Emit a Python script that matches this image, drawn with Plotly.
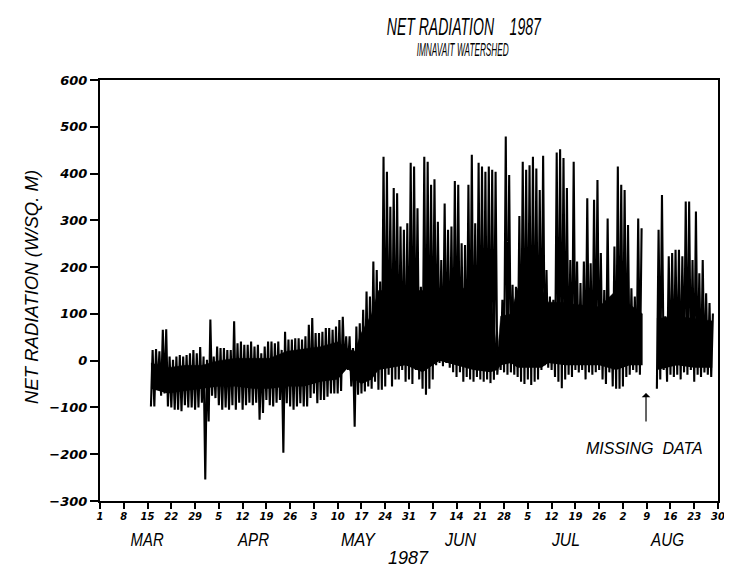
import json
import plotly.graph_objects as go
import pandas as pd

# ---------------- data ----------------
season_start = "1987-03-01"          # day index 0
first_day = 15                        # first day with data (Mar 16)

# daily maximum net radiation (W/sq. m), day index 15..180 ; None = missing data
day_max = [23, 25, 20, 66, 67, 9, 2, 9, 12, 9, 12, 16, 23, 16, 29, 9, 2, 88, 9, 30,
           27, 27, 23, 23, 84, 37, 41, 34, 34, 41, 30, 34, 16, 30, 41, 41, 37, 41, 23, 62,
           45, 45, 48, 48, 45, 52, 77, 91, 59, 59, 62, 70, 70, 66, 73, 87, 94, 52, 52, 27,
           73, 80, 109, 148, 137, 212, 194, 169, 436, 404, 329, 369, 358, 287, 280, 294, 423, 415, 326, 158,
           436, 425, 376, 388, 297, 215, 336, 280, 287, 384, 376, 251, 247, 376, 440, 294, 423, 415, 404, 415,
           408, 404, 20, 130, 479, 397, 162, 158, 309, 425, 408, 418, 436, 411, 365, 438, 194, 137, 130, 445,
           452, 433, 369, 215, 425, 212, 166, 212, 347, 208, 344, 386, 230, 151, 304, 123, 244, 415, 376, 365,
           290, 155, 137, 304, 283, None, None, None, None, 280, 354, 95, 223, 230, 237, 237, 223, 340, 340, 215,
           319, 187, 215, 144, 123, 101]

# daily minimum net radiation (W/sq. m), day index 15..180
day_min = [-98, -98, -60, -75, -70, -98, -100, -105, -105, -108, -95, -100, -100, -105, -100, -90, -254, -130, -75, -80,
           -95, -105, -100, -105, -95, -105, -90, -105, -95, -90, -95, -90, -126, -112, -84, -95, -98, -90, -84, -197,
           -91, -98, -105, -98, -91, -98, -98, -80, -70, -91, -84, -84, -77, -70, -70, -70, -65, -20, -20, -55,
           -141, -73, -70, -66, -55, -60, -45, -62, -62, -55, -30, -55, -40, -40, -20, -45, -40, -50, -20, -40,
           -60, -73, -60, -40, -10, -5, -12, -5, -15, -25, -35, -25, -45, -35, -40, -45, -35, -40, -45, -40,
           -48, -41, -30, -20, -25, -30, -25, -30, -35, -45, -50, -40, -52, -45, -40, -20, -10, -15, -20, -35,
           -45, -59, -40, -30, -35, -20, -25, -20, -40, -25, -30, -25, -20, -40, -50, -25, -55, -60, -60, -55,
           -35, -30, -20, -25, -30, None, None, None, None, -60, -40, -20, -45, -30, -35, -30, -40, -25, -30, -20,
           -45, -30, -35, -25, -30, -35]

# dense core of the hourly trace (upper / lower edge of the solid black band)
core_day = [15, 20, 25, 30, 35, 40, 45, 50, 55, 60, 65, 70, 73, 75, 77, 80, 82, 90, 95, 100,
            105, 110, 115, 117, 118, 121, 123, 130, 132, 137, 140, 147, 152, 156, 159.8, None,
            164, 170, 175, 180.3]
core_hi = [-5, -15, -10, -10, 0, 5, 5, 5, 20, 25, 30, 40, 25, 20, 60, 100, 150, 150, 150, 155,
           155, 155, 150, 10, 95, 100, 155, 155, 125, 125, 120, 115, 150, 120, 100, None,
           90, 95, 90, 85]
core_lo = [-60, -70, -65, -60, -55, -55, -60, -60, -55, -55, -45, -40, -15, -40, -50, -40, -20, -10, -25, 0,
           -10, -20, -25, -20, -10, -5, -15, -15, -5, -10, -10, -10, -20, -10, -10, None,
           -20, -10, -15, -15]

tick_days = list(range(0, 183, 7))
tick_labels = ["1", "8", "15", "22", "29", "5", "12", "19", "26", "3", "10", "17", "24", "31",
               "7", "14", "21", "28", "5", "12", "19", "26", "2", "9", "16", "23", "30"]
month_names = ["MAR", "APR", "MAY", "JUN", "JUL", "AUG"]
month_mid = ["1987-03-15", "1987-04-15", "1987-05-16", "1987-06-15", "1987-07-16", "1987-08-15"]
y_ticks = [600, 500, 400, 300, 200, 100, 0, -100, -200, -300]

missing_day = 160.8
# ----------------------------------------------------------------

t0 = pd.Timestamp(season_start)


def day_to_date(d):
    return t0 + pd.to_timedelta(d, unit="D")


# zig-zag hourly-like trace: night minimum -> noon maximum
zx, zy = [], []
for i, (mx, mn) in enumerate(zip(day_max, day_min)):
    d = first_day + i
    if mx is None:
        zx.append(day_to_date(d))
        zy.append(None)
        continue
    zx += [day_to_date(d), day_to_date(d + 0.5)]
    zy += [mn, mx]

fig = go.Figure()

# solid core band, split into segments at None
segs, cur = [], []
for d, hi, lo in zip(core_day, core_hi, core_lo):
    if d is None:
        segs.append(cur)
        cur = []
    else:
        cur.append((d, hi, lo))
segs.append(cur)
for seg in segs:
    xs = [day_to_date(s[0]) for s in seg]
    fig.add_trace(go.Scatter(x=xs, y=[s[2] for s in seg], mode="lines",
                             line=dict(width=0, color="black"), hoverinfo="skip",
                             showlegend=False))
    fig.add_trace(go.Scatter(x=xs, y=[s[1] for s in seg], mode="lines",
                             line=dict(width=0.5, color="black"), fill="tonexty",
                             fillcolor="black", hoverinfo="skip", showlegend=False))

fig.add_trace(go.Scatter(x=zx, y=zy, mode="lines", connectgaps=False,
                         line=dict(color="black", width=2.1), showlegend=False))

ital = dict(family="Liberation Sans, sans-serif", color="black", style="italic")
num_font = dict(family="DejaVu Sans", color="black", style="italic", weight="bold")

# page body has an 8px margin: the figure is sized so the plot lands where the reference has it
fig.update_layout(
    width=724, height=570,
    margin=dict(l=92, r=7, t=72, b=77),
    paper_bgcolor="white", plot_bgcolor="white",
    showlegend=False,
    xaxis=dict(
        range=[day_to_date(0), day_to_date(182)],
        tickvals=[day_to_date(d) for d in tick_days],
        ticktext=tick_labels,
        tickfont=dict(size=10, **num_font),
        ticks="outside", ticklen=6, tickwidth=1.5, tickcolor="black",
        ticklabelstandoff=-1,
        showline=True, linecolor="black", linewidth=2, mirror=True,
        showgrid=False, zeroline=False,
    ),
    yaxis=dict(
        range=[-300, 600],
        tickvals=y_ticks,
        ticktext=[str(v).replace("-", "\u2212") for v in y_ticks],
        tickfont=dict(size=13, **num_font),
        ticks="outside", ticklen=8, tickwidth=1.5, tickcolor="black",
        showline=True, linecolor="black", linewidth=2, mirror=True,
        showgrid=False, zeroline=False,
    ),
)

title_text = "NET RADIATION\u00a0\u00a0\u00a0\u00a01987"
sub_text = "IMNAVAIT WATERSHED"
ann = []
ann.append(dict(text=title_text, x=0.589, y=1.127, xref="paper", yref="paper",
                showarrow=False, xanchor="center", yanchor="middle", font=dict(size=24, **ital)))
ann.append(dict(text=sub_text, x=0.586, y=1.072, xref="paper", yref="paper",
                showarrow=False, xanchor="center", yanchor="middle", font=dict(size=18, **ital)))
ann.append(dict(text="NET RADIATION (W/SQ. M)", x=-0.112, y=0.508, xref="paper", yref="paper",
                textangle=-90, showarrow=False, xanchor="center", yanchor="middle",
                font=dict(size=18.5, **ital)))
for name, mid in zip(month_names, month_mid):
    ann.append(dict(text=name, x=mid, y=-0.092, xref="x", yref="paper", showarrow=False,
                    xanchor="center", yanchor="middle", font=dict(size=19, **ital)))
ann.append(dict(text="1987", x=0.499, y=-0.135, xref="paper", yref="paper", showarrow=False,
                xanchor="center", yanchor="middle", font=dict(size=18, **ital)))
ann.append(dict(text="MISSING\u00a0\u00a0DATA", x=day_to_date(missing_day - 0.3), y=-188, xref="x", yref="y",
                showarrow=False, xanchor="center", yanchor="middle",
                font=dict(size=16, **ital)))
ann.append(dict(text="", x=day_to_date(missing_day), y=-69, ax=day_to_date(missing_day), ay=-133,
                xref="x", yref="y", axref="x", ayref="y", showarrow=True,
                arrowhead=1, arrowsize=1.2, arrowwidth=1.2, arrowcolor="black"))
fig.update_layout(annotations=ann)

# the reference lettering is a narrow plotter font: squeeze these texts to its widths
squeeze = {title_text: 154, sub_text: 92, "MAR": 33, "APR": 31, "MAY": 34,
           "JUN": 31, "JUL": 28, "AUG": 33}
post = (
    "var gd=document.getElementById('{plot_id}');"
    "var W=" + json.dumps(squeeze) + ";"
    "var N={};Object.keys(W).forEach(function(k){N[k.replace(/\\s+/g,' ')]=W[k];});"
    "gd.querySelectorAll('text.annotation-text').forEach(function(t){"
    "var k=(t.textContent||'').replace(/\\s+/g,' ');"
    "if(N.hasOwnProperty(k)){t.setAttribute('textLength',N[k]);"
    "t.setAttribute('lengthAdjust','spacingAndGlyphs');}});"
)

fig.write_html("out.html", post_script=post)
